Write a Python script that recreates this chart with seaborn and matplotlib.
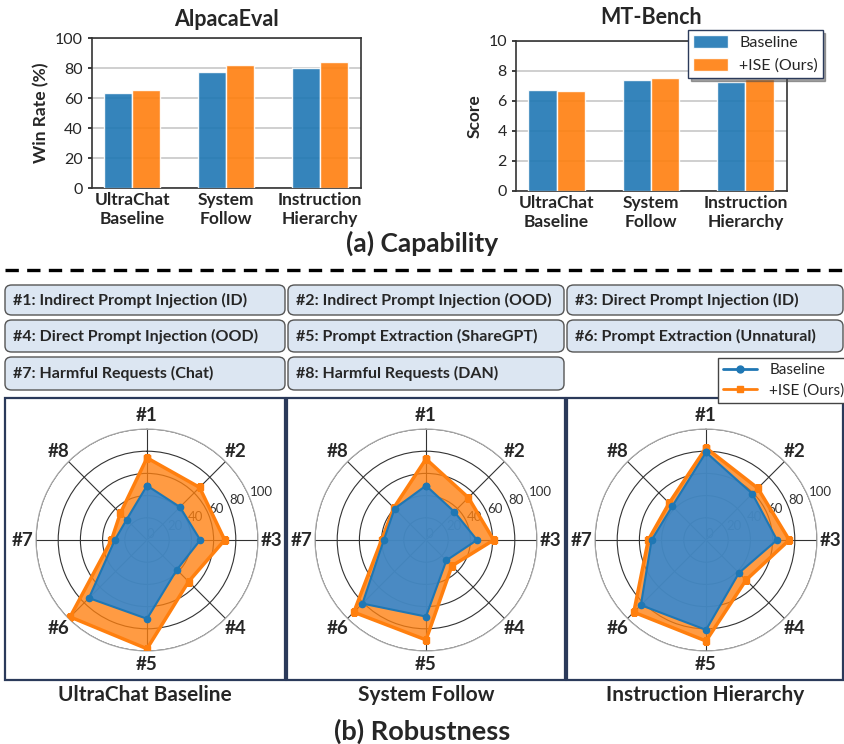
import numpy as np
import pandas as pd
import seaborn as sns
import matplotlib.pyplot as plt
from matplotlib.patches import FancyBboxPatch, Rectangle
from matplotlib.lines import Line2D

# ---- data ----
methods = ["UltraChat\nBaseline", "System\nFollow", "Instruction\nHierarchy"]
panel_titles = ["UltraChat Baseline", "System Follow", "Instruction Hierarchy"]
series = ["Baseline", "+ISE (Ours)"]

alpaca_base = [63.3, 77.2, 80.1]
alpaca_ise = [65.3, 81.9, 83.8]
mt_base = [6.72, 7.38, 7.25]
mt_ise = [6.65, 7.52, 7.45]

radar_labels = ["#1", "#2", "#3", "#4", "#5", "#6", "#7", "#8"]
radar_base = [
    [49, 42, 48, 38, 71, 74, 29, 26],
    [49, 36, 46, 26, 69, 81, 38, 40],
    [79, 59, 64, 42, 81, 83, 49, 43],
]
radar_ise = [
    [74, 67, 70, 53, 98, 98, 32, 34],
    [73, 54, 61, 33, 90, 92, 40, 41],
    [83, 66, 75, 51, 91, 92, 52, 47],
]

box_texts = [
    "#1: Indirect Prompt Injection (ID)",
    "#2: Indirect Prompt Injection (OOD)",
    "#3: Direct Prompt Injection (ID)",
    "#4: Direct Prompt Injection (OOD)",
    "#5: Prompt Extraction (ShareGPT)",
    "#6: Prompt Extraction (Unnatural)",
    "#7: Harmful Requests (Chat)",
    "#8: Harmful Requests (DAN)",
]

W, H = 844, 744
blue = "#1f77b4"
orange = "#ff7f0e"

sns.set_theme(style="white")
plt.rcParams["font.family"] = ["Lato", "DejaVu Sans"]

fig = plt.figure(figsize=(W / 100, H / 100), dpi=100)


def rect(x0, y0, x1, y1):
    return [x0 / W, 1 - y1 / H, (x1 - x0) / W, (y1 - y0) / H]


def bar_panel(box, base, ise, title, ylabel, ymax, yticks, pad):
    ax = fig.add_axes(rect(*box))
    df = pd.DataFrame({
        "method": methods * 2,
        "value": base + ise,
        "series": [series[0]] * 3 + [series[1]] * 3,
    })
    sns.barplot(data=df, x="method", y="value", hue="series",
                palette=[blue, orange], width=0.6, alpha=0.9,
                saturation=1, ax=ax, zorder=3)
    ax.set_xlim(-0.43, 2.44)
    ax.set_ylim(0, ymax)
    ax.set_yticks(yticks)
    ax.yaxis.grid(True, color="#cccccc", linewidth=1.3, zorder=0)
    ax.set_axisbelow(True)
    ax.set_xlabel("")
    ax.set_ylabel(ylabel, fontsize=12.5, fontweight="bold")
    ax.set_title(title, fontsize=15.5, fontweight="bold", pad=pad)
    for t in ax.get_xticklabels():
        t.set_fontweight("bold")
    ax.tick_params(axis="x", labelsize=12.5, length=0, pad=3)
    ax.tick_params(axis="y", labelsize=11.5, length=3, left=True)
    for s in ax.spines.values():
        s.set_color("#333333")
        s.set_linewidth(1.2)
    return ax


ax1 = bar_panel((92, 38, 361, 188), alpaca_base, alpaca_ise, "AlpacaEval",
                "Win Rate (%)", 100, [0, 20, 40, 60, 80, 100], 9)
ax1.get_legend().remove()
ax2 = bar_panel((516, 41, 787, 191), mt_base, mt_ise, "MT-Bench",
                "Score", 10, [0, 2, 4, 6, 8, 10], 12)
ax2.get_legend().remove()
h, l = ax1.get_legend_handles_labels()
fig.legend(h, l, loc="upper left", bbox_to_anchor=(688 / W, 1 - 30 / H),
           fontsize=11.5, frameon=True, fancybox=False, shadow=True,
           edgecolor="#2b3a5a", borderaxespad=0, handlelength=2.2,
           handleheight=0.9, handletextpad=0.7, borderpad=0.3,
           labelspacing=0.5, framealpha=1)

fig.text(0.5, 1 - 243 / H, "(a) Capability", ha="center", va="center",
         fontsize=19, fontweight="bold")

# dashed separator
fig.add_artist(Line2D([5 / W, 1], [1 - 270 / H] * 2, transform=fig.transFigure,
                      color="black", linewidth=2.4, linestyle=(0, (4, 2.5))))

# category boxes
cols = [(5, 285), (288, 564), (567, 843)]
rows = [(285, 315), (320, 352), (357, 390)]
for i, txt in enumerate(box_texts):
    r, c = divmod(i, 3)
    x0, x1 = cols[c]
    y0, y1 = rows[r]
    fig.add_artist(FancyBboxPatch(
        (x0 / W, 1 - y1 / H), (x1 - x0) / W, (y1 - y0) / H,
        boxstyle="round,pad=0,rounding_size=0.008",
        transform=fig.transFigure, facecolor="#dce6f2",
        edgecolor="#555555", linewidth=1.0))
    fig.text((x0 + 8) / W, 1 - (y0 + y1) / 2 / H, txt, ha="left", va="center",
             fontsize=11.5, fontweight="bold")

# radar panels
theta = np.arange(len(radar_labels)) * 2 * np.pi / len(radar_labels)
theta_c = np.append(theta, theta[0])
panels = [(5, 285), (287, 565), (567, 843)]
centers = [147, 426, 706]
R = 111
for k in range(3):
    px0, px1 = panels[k]
    fig.add_artist(Rectangle((px0 / W, 1 - 680 / H), (px1 - px0) / W, 282 / H,
                             transform=fig.transFigure, fill=False,
                             edgecolor="#2b3a5a", linewidth=1.6))
    cx = centers[k]
    ax = fig.add_axes(rect(cx - R, 540 - R, cx + R, 540 + R), projection="polar")
    ax.set_theta_zero_location("N")
    ax.set_theta_direction(-1)
    ax.set_facecolor("none")
    b = np.append(radar_base[k], radar_base[k][0])
    e = np.append(radar_ise[k], radar_ise[k][0])
    ax.fill(theta_c, e, color=orange, alpha=0.78, zorder=2, linewidth=0)
    ax.plot(theta_c, e, color=orange, marker="s", markersize=4.5, linewidth=2.5, zorder=3)
    ax.fill(theta_c, b, color="#2a88da", alpha=0.85, zorder=4, linewidth=0)
    ax.plot(theta_c, b, color=blue, marker="o", markersize=4.5, linewidth=1.5, zorder=5)
    ax.set_ylim(0, 100)
    ax.set_yticks([0, 20, 40, 60, 80, 100])
    ax.set_yticklabels(["0", "20", "40", "60", "80", "100"], fontsize=9.5,
                       color="#333333")
    ax.set_rlabel_position(67.5)
    ax.set_xticks(theta)
    ax.set_xticklabels(radar_labels, fontsize=13.5, fontweight="bold")
    ax.tick_params(axis="x", pad=-3)
    ax.grid(True, color="#333333", linewidth=0.8)
    ax.spines["polar"].set_color("#aaaaaa")
    ax.spines["polar"].set_linewidth(0.8)
    fig.text((px0 + px1) / 2 / W, 1 - 695 / H, panel_titles[k], ha="center",
             va="center", fontsize=15, fontweight="bold")

fig.text(0.5, 1 - 731 / H, "(b) Robustness", ha="center", va="center",
         fontsize=19.5, fontweight="bold")

leg_handles = [
    Line2D([], [], color=blue, marker="o", markersize=5, linewidth=2),
    Line2D([], [], color=orange, marker="s", markersize=5, linewidth=2),
]
fig.legend(leg_handles, series, loc="upper left",
           bbox_to_anchor=(718 / W, 1 - 358 / H), fontsize=11,
           frameon=True, fancybox=False, edgecolor="#444444",
           borderaxespad=0, handlelength=2.2, borderpad=0.35,
           labelspacing=0.4, framealpha=1)

fig.savefig("out.png", dpi=100)
